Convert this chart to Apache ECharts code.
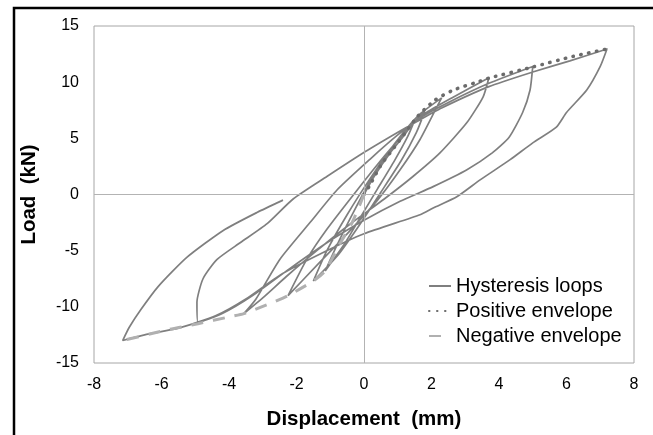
<!DOCTYPE html>
<html>
<head>
<meta charset="utf-8">
<script src="https://cdn.jsdelivr.net/npm/echarts@6/dist/echarts.min.js"></script>
<style>
  html, body { margin: 0; padding: 0; background: #fff; }
  #chart { width: 653px; height: 435px; }
</style>
</head>
<body>
<div id="chart"></div>
<script>
// Axis ticks
const xTicks = [-8, -6, -4, -2, 0, 2, 4, 6, 8];
const yTicks = [-15, -10, -5, 0, 5, 10, 15];

// Hysteresis path, cycle by cycle [displacement mm, load kN]
const initialLoad = [[0, 0], [0.3, 1.6], [0.8, 3.8], [1.2, 5.3], [1.5, 6.6]];
const unload1 = [[1.3, 5.2], [0.9, 3.0], [0.4, 0.5], [-0.1, -2.0], [-0.6, -4.5], [-1.15, -6.8]];
const reload1 = [[-0.8, -4.5], [-0.3, -1.5], [0.3, 1.8], [1.0, 4.8], [1.8, 7.4]];
const unload2 = [[1.55, 5.5], [1.1, 3.0], [0.5, 0.2], [-0.2, -3.0], [-0.8, -5.5], [-1.5, -7.7]];
const reload2 = [[-1.1, -5.0], [-0.5, -1.8], [0.2, 1.5], [0.9, 4.5], [1.6, 7.0], [2.3, 8.6]];
const unload3 = [[2.16, 7.8], [1.66, 4.9], [1.07, 2.2], [0.4, -0.5], [-0.5, -3.5], [-1.3, -6.0], [-2.25, -9.0]];
const reload3 = [[-1.7, -5.8], [-1.1, -3.1], [-0.2, 0.4], [0.6, 3.4], [1.3, 5.8], [1.8, 7.2], [2.6, 8.6], [3.7, 10.4]];
const unload4 = [[3.53, 8.7], [3.05, 6.4], [2.25, 3.7], [1.45, 1.6], [0.6, -0.4], [-0.4, -2.6], [-1.4, -5.0], [-2.3, -7.3], [-3.0, -9.2], [-3.56, -10.6]];
const reload4 = [[-3.2, -9.3], [-2.5, -5.8], [-1.6, -2.5], [-0.8, 0.4], [0.2, 3.2], [1.0, 5.3], [1.7, 6.9], [2.5, 8.2], [3.7, 9.9], [5.0, 11.4]];
const unload5 = [[4.92, 9.3], [4.7, 7.3], [4.3, 5.1], [3.8, 3.7], [3.05, 2.2], [2.05, 0.7], [1.07, -0.6], [0, -2.3], [-1.1, -4.3], [-2.2, -6.6], [-3.3, -9.0], [-4.2, -10.6], [-4.92, -11.4]];
const reload5 = [[-4.95, -9.6], [-4.77, -7.5], [-4.36, -5.8], [-3.67, -4.3], [-2.87, -2.6], [-2.1, -0.4], [-1.1, 1.6], [0.03, 3.8], [0.98, 5.5], [1.57, 6.5], [2.3, 7.7], [3.7, 9.6], [5.0, 10.9], [6.1, 11.9], [7.2, 12.95]];
const unload6 = [[7.0, 11.4], [6.6, 9.3], [6.0, 7.3], [5.7, 6.0], [5.0, 4.6], [4.33, 3.1], [3.44, 1.3], [2.75, -0.2], [2.05, -1.2], [1.66, -1.8], [0, -3.5], [-1.3, -5.3], [-2.5, -7.2], [-3.5, -9.3], [-4.4, -10.8], [-5.5, -11.9], [-6.5, -12.5], [-7.15, -13.0]];
const reload6 = [[-6.95, -11.8], [-6.6, -10.2], [-6.1, -8.2], [-5.25, -5.6], [-4.17, -3.2], [-3.17, -1.6], [-2.4, -0.5]];

// Envelopes
const positiveEnvelope = [[0, 0], [0.15, 0.7], [0.5, 2.6], [0.9, 4.2], [1.25, 5.6], [1.6, 7.0], [2.1, 8.4], [2.65, 9.3], [3.35, 10.0], [3.75, 10.4], [5.0, 11.35], [6.2, 12.3], [7.2, 12.95]];
const negativeEnvelope = [[0, 0], [-0.35, -2.5], [-0.7, -4.3], [-1.15, -6.8], [-1.5, -7.7], [-2.25, -9.0], [-2.7, -9.6], [-3.56, -10.6], [-4.0, -10.9], [-4.92, -11.5], [-5.75, -12.0], [-7.15, -13.0]];

const hysteresis = [].concat(
  initialLoad, unload1, reload1, unload2, reload2, unload3,
  reload3, unload4, reload4, unload5, reload5, unload6, reload6
);

const font = 'Liberation Sans, Arial, sans-serif';
const chart = echarts.init(document.getElementById('chart'), null, { renderer: 'canvas' });

chart.setOption({
  animation: false,
  backgroundColor: '#fff',
  textStyle: { fontFamily: font },
  graphic: [{
    type: 'polyline',
    shape: { points: [[14, 435], [14, 8], [653, 8]] },
    style: { stroke: '#000', lineWidth: 2.5, fill: null },
    z: 100
  }],
  grid: {
    left: 94, right: 19, top: 26, bottom: 71,
    show: true, borderColor: '#a6a6a6', borderWidth: 1
  },
  legend: {
    data: ['Hysteresis loops', 'Positive envelope', 'Negative envelope'],
    orient: 'vertical',
    left: 423, top: 271,
    itemWidth: 22, itemHeight: 10, itemGap: 5,
    itemStyle: { opacity: 0 },
    textStyle: { fontFamily: font, fontSize: 20, color: '#000' }
  },
  xAxis: {
    type: 'value',
    min: xTicks[0], max: xTicks[xTicks.length - 1], interval: 2,
    name: 'Displacement  (mm)', nameLocation: 'middle', nameGap: 46,
    nameTextStyle: { fontFamily: font, fontSize: 20.5, fontWeight: 'bold', color: '#000' },
    axisLine: { show: false }, axisTick: { show: false }, splitLine: { show: false },
    axisLabel: { fontFamily: font, fontSize: 16, color: '#000', margin: 14 }
  },
  yAxis: {
    type: 'value',
    min: yTicks[0], max: yTicks[yTicks.length - 1], interval: 5,
    name: 'Load  (kN)', nameLocation: 'middle', nameGap: 54,
    nameTextStyle: { fontFamily: font, fontSize: 20.5, fontWeight: 'bold', color: '#000' },
    axisLine: { show: false }, axisTick: { show: false }, splitLine: { show: false },
    axisLabel: { fontFamily: font, fontSize: 16, color: '#000', margin: 15 }
  },
  series: [
    {
      name: 'zero',
      type: 'line',
      data: [],
      z: 1,
      markLine: {
        silent: true, symbol: 'none', label: { show: false },
        lineStyle: { color: '#b3b3b3', width: 1, type: 'solid' },
        data: [{ xAxis: 0 }, { yAxis: 0 }]
      }
    },
    {
      name: 'Hysteresis loops',
      type: 'line',
      data: hysteresis,
      symbol: 'none',
      smooth: 0.2,
      z: 2,
      lineStyle: { color: '#7f7f7f', width: 1.7 },
      itemStyle: { color: '#7f7f7f' }
    },
    {
      name: 'Positive envelope',
      type: 'line',
      data: positiveEnvelope,
      symbol: 'none',
      smooth: 0.2,
      z: 3,
      lineStyle: { color: '#6b6b6b', width: 3.5, type: [0.5, 7.5], cap: 'round' },
      itemStyle: { color: '#6b6b6b' }
    },
    {
      name: 'Negative envelope',
      type: 'line',
      data: negativeEnvelope,
      symbol: 'none',
      smooth: 0.2,
      z: 3,
      lineStyle: { color: '#b0b0b0', width: 3, type: [12, 10] },
      itemStyle: { color: '#b0b0b0' }
    }
  ]
});
</script>
</body>
</html>
